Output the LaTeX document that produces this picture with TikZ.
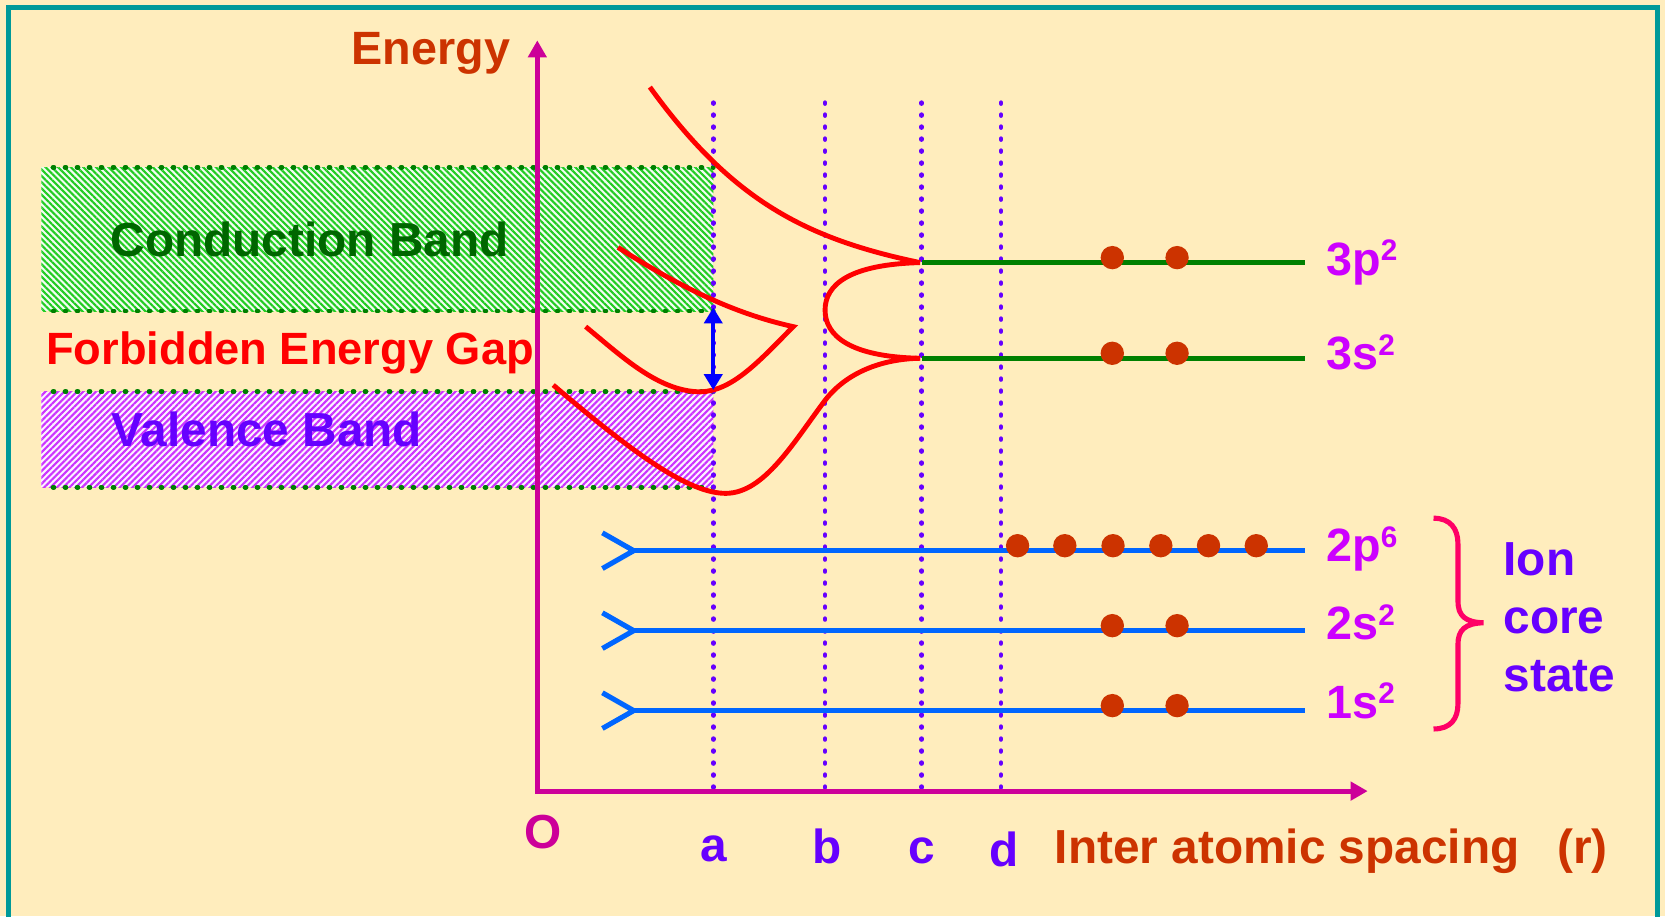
\documentclass[tikz,border=0pt]{standalone}
\usepackage{fontspec}
\setmainfont{Liberation Sans}
\usetikzlibrary{arrows.meta,patterns.meta}
\definecolor{bgc}{HTML}{FFEDBD}
\definecolor{framec}{HTML}{009999}
\definecolor{axisc}{HTML}{CC0099}
\definecolor{orangec}{HTML}{CC3300}
\definecolor{purplec}{HTML}{6600FF}
\definecolor{cbtext}{HTML}{006600}
\definecolor{levelc}{HTML}{CC00FF}
\definecolor{bracec}{HTML}{FF0066}
\definecolor{glinec}{HTML}{008000}
\definecolor{blinec}{HTML}{0066FF}
\definecolor{arrowc}{HTML}{0000FF}
\definecolor{hgreen}{HTML}{22CC22}
\definecolor{hmag}{HTML}{CC33FF}
\definecolor{redc}{HTML}{FF0000}
\newcommand\supr[1]{\raisebox{6.8pt}{\fontsize{14}{14}\selectfont #1}}
\begin{document}
\begin{tikzpicture}[x=0.5pt,y=-0.5pt,
  lbl/.style={inner sep=0pt,font=\bfseries\fontsize{22.5}{26}\selectfont},
  vdots/.style={draw=purplec,line width=2.2pt,line cap=round,dash pattern=on 0.4pt off 5.25pt},
  gdots/.style={draw=glinec,line width=2.3pt,line cap=round,dash pattern=on 0.4pt off 5.25pt},
  curve/.style={draw=redc,line width=2.3pt,line join=miter},
  glevel/.style={draw=glinec,line width=2.4pt},
  blevel/.style={draw=blinec,line width=2.4pt,line join=miter},
  edot/.style={fill=orangec},
  axisline/.style={draw=axisc,line width=2.3pt,line join=miter},
  levellbl/.style={lbl,text=levelc,anchor=base west,font=\bfseries\fontsize{22}{26}\selectfont},
]
\useasboundingbox (0,0) rectangle (1568,863);
\fill[bgc] (0,0) rectangle (1568,863);
\draw[framec,line width=2.7pt] (8,870) -- (8,7) -- (1561,7) -- (1561,870);

% bands
\fill[white!94!hgreen] (38.9,157.6) rectangle (671.7,292.9);
\fill[pattern={Lines[angle=-45,distance=2.1pt,line width=1pt]},pattern color=hgreen] (38.9,157.6) rectangle (671.7,292.9);
\fill[white!94!hmag] (38.9,368.8) rectangle (671.7,458.9);
\fill[pattern={Lines[angle=45,distance=2.1pt,line width=1pt]},pattern color=hmag] (38.9,368.8) rectangle (671.7,458.9);
\coordinate (cbtl) at (50,157.6); \coordinate (cbtr) at (671.7,157.6);
\coordinate (cbbl) at (50,292.9); \coordinate (cbbr) at (671.7,292.9);
\coordinate (vbtl) at (50,368.8); \coordinate (vbtr) at (671.7,368.8);
\coordinate (vbbl) at (50,458.9); \coordinate (vbbr) at (671.7,458.9);
\path[gdots] (cbtl) -- (cbtr);
\path[gdots] (cbbl) -- (cbbr);
\path[gdots] (vbtl) -- (vbtr);
\path[gdots] (vbbl) -- (vbbr);

\node[lbl,text=cbtext,anchor=base west] (cb) at (103.8,241.7) {Conduction Band};
\node[lbl,text=redc,anchor=base west,font=\bfseries\fontsize{21.3}{25}\selectfont] (gap) at (43.2,343.7) {Forbidden Energy Gap};
\node[lbl,text=purplec,anchor=base west] (vb) at (104.5,420.6) {Valence Band};

% dotted vertical lines
\coordinate (atop) at (671.7,96.7); \coordinate (abot) at (671.7,745);
\coordinate (btop) at (776.9,96.7); \coordinate (bbot) at (776.9,745);
\coordinate (ctop) at (868,96.7);   \coordinate (cbot) at (868,745);
\coordinate (dtop) at (942.6,96.7); \coordinate (dbot) at (942.6,745);
\path[vdots] (atop) -- (abot);
\path[vdots] (btop) -- (bbot);
\path[vdots] (ctop) -- (cbot);
\path[vdots] (dtop) -- (dbot);

% axes
\coordinate (ytip) at (506,38);
\coordinate (orig) at (506,745);
\coordinate (xtip) at (1288,745);
\draw[axisline,{Triangle[width=8.5pt,length=8pt]}-{Triangle[width=8.5pt,length=8pt]}] (ytip) -- (orig) -- (xtip);

% red curves
\coordinate (cusp1) at (866.5,247.3);
\coordinate (cusp2) at (866.5,337.4);
\draw[curve] (612,82) .. controls (690,190) and (760,225) .. (cusp1);
\draw[curve] (cusp1) .. controls (800,249) and (777,268) .. (777,292)
  .. controls (777,316) and (800,336) .. (cusp2);
\draw[curve] (cusp2) .. controls (830,338) and (797,351) .. (777,377)
  .. controls (747,417) and (720,464) .. (684,464.6)
  .. controls (650,465) and (600,430) .. (521,362.6);
\draw[curve] (582,233) .. controls (640,270) and (690,295) .. (747,307.6)
  .. controls (715,340) and (690,368) .. (660,369)
  .. controls (620,369) and (585,335) .. (551.5,307.6);

% energy gap arrow
\coordinate (gtop) at (671.7,289.6);
\coordinate (gbot) at (671.7,367.3);
\draw[arrowc,line width=2.1pt,{Triangle[width=8.5pt,length=7.5pt]}-{Triangle[width=8.5pt,length=7.5pt]}] (gtop) -- (gbot);

% levels
\coordinate (l3pR) at (1229,247.3);
\coordinate (l3sR) at (1229,337.4);
\path[glevel] (868,247.3) -- (l3pR);
\path[glevel] (868,337.4) -- (l3sR);
\foreach \y in {518.6,593.9,669.2}{
  \path[blevel] (567.3,\y-16.8) -- (596.8,\y) -- (567.3,\y+16.8);
  \path[blevel] (596.8,\y) -- (1229,\y);
}

% electrons
\foreach \x in {1047.5,1108.5}{
  \fill[edot] (\x,242.6) circle (5.5pt);
  \fill[edot] (\x,332.7) circle (5.5pt);
  \fill[edot] (\x,589.2) circle (5.5pt);
  \fill[edot] (\x,664.5) circle (5.5pt);
}
\foreach \x in {958.3,1002.8,1048.2,1093.2,1138.1,1183.1}{
  \fill[edot] (\x,513.9) circle (5.5pt);
}

% level labels
\node[levellbl] (t3p) at (1248.7,259) {3p\supr{2}};
\node[levellbl] (t3s) at (1248.7,348.4) {3s\supr{2}};
\node[levellbl] (t2p) at (1248.7,529) {2p\supr{6}};
\node[levellbl] (t2s) at (1248.7,602.7) {2s\supr{2}};
\node[levellbl] (t1s) at (1248.7,676.5) {1s\supr{2}};

% brace
\draw[bracec,line width=2.4pt] (1350,488) .. controls (1366,488) and (1373,498) .. (1373,512) -- (1373,566)
  .. controls (1373,580) and (1380,586) .. (1397,586.5)
  .. controls (1380,587) and (1373,593) .. (1373,607) -- (1373,663)
  .. controls (1373,677) and (1366,686.5) .. (1350,686.5);
\node[lbl,text=purplec,anchor=base west] (ion) at (1415.6,541.5) {Ion};
\node[lbl,text=purplec,anchor=base west] (core) at (1415.6,596.4) {core};
\node[lbl,text=purplec,anchor=base west] (state) at (1415.6,651.4) {state};

% axis labels
\node[lbl,text=orangec,anchor=base west,font=\bfseries\fontsize{22}{26}\selectfont] (energy) at (330.8,60.3) {Energy};
\node[lbl,text=axisc,anchor=base] (o) at (511.5,799) {O};
\node[lbl,text=purplec,anchor=base] (la) at (672.5,811) {a};
\node[lbl,text=purplec,anchor=base] (lb) at (778.5,813) {b};
\node[lbl,text=purplec,anchor=base] (lc) at (868,813) {c};
\node[lbl,text=purplec,anchor=base] (ld) at (945.5,816) {d};
\node[lbl,text=orangec,anchor=base west] (ias) at (993,813.6) {Inter atomic spacing};
\node[lbl,text=orangec,anchor=base west] (rr) at (1466,813.6) {(r)};
\end{tikzpicture}
\end{document}
